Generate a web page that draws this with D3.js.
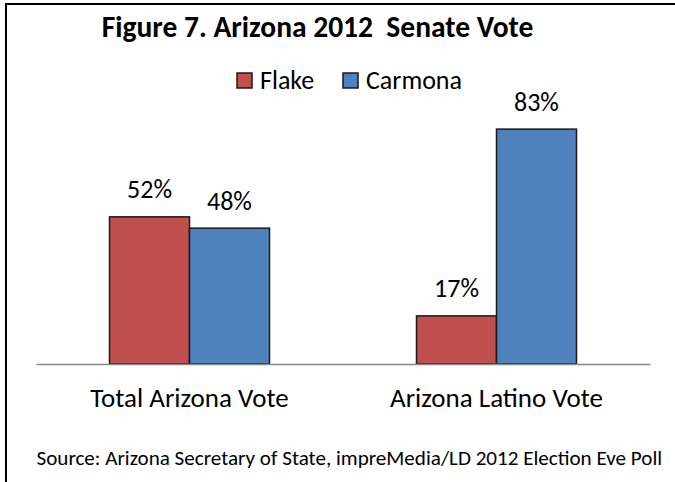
<!DOCTYPE html>
<html>
<head>
<meta charset="utf-8">
<script src="https://cdn.jsdelivr.net/npm/d3@7"></script>
<style>
  html, body { margin: 0; padding: 0; background: #fff; }
  svg { display: block; }
  text { font-family: Carlito, Lato, "Open Sans", sans-serif; fill: #000; }
</style>
</head>
<body>
<svg id="chart" width="675" height="482"></svg>
<script>
// Arizona 2012 Senate vote shares
const categories = ["Total Arizona Vote", "Arizona Latino Vote"];
const seriesNames = ["Flake", "Carmona"];
const flakeValues = [52, 17];
const carmonaValues = [48, 83];
const seriesColors = ["#C0504D", "#4F81BD"];

const titleText = "Figure 7. Arizona 2012  Senate Vote";
const sourceText = "Source: Arizona Secretary of State, impreMedia/LD 2012 Election Eve Poll";

const svg = d3.select("#chart");

// chart frame (left and top edges)
svg.append("path")
  .attr("d", "M6,482 L6,4 L675,4")
  .attr("fill", "none")
  .attr("stroke", "#000")
  .attr("stroke-width", 2);

const plot = { left: 36, right: 650, top: 81, bottom: 364 };

const x0 = d3.scaleBand()
  .domain(categories)
  .range([plot.left, plot.right])
  .padding(0);

const barWidth = 80;
const x1 = d3.scaleBand()
  .domain(seriesNames)
  .range([-barWidth, barWidth])
  .padding(0);

const y = d3.scaleLinear()
  .domain([0, 100])
  .range([plot.bottom, plot.top]);

const rows = categories.map((c, i) => ({
  category: c,
  values: [
    { series: "Flake", value: flakeValues[i], color: seriesColors[0] },
    { series: "Carmona", value: carmonaValues[i], color: seriesColors[1] }
  ]
}));

const groups = svg.append("g").selectAll("g")
  .data(rows)
  .join("g")
  .attr("transform", d => `translate(${x0(d.category) + x0.bandwidth() / 2},0)`);

groups.selectAll("rect")
  .data(d => d.values)
  .join("rect")
  .attr("x", d => x1(d.series))
  .attr("y", d => y(d.value))
  .attr("width", x1.bandwidth())
  .attr("height", d => y(0) - y(d.value))
  .attr("fill", d => d.color)
  .attr("stroke", "#1a1a1a")
  .attr("stroke-width", 1.5);

groups.selectAll("text.val")
  .data(d => d.values)
  .join("text")
  .attr("class", "val")
  .attr("x", d => x1(d.series) + x1.bandwidth() / 2)
  .attr("y", d => y(d.value) - 18.5)
  .attr("text-anchor", "middle")
  .attr("font-size", 26)
  .text(d => d.value + "%");

// category axis
const xAxis = d3.axisBottom(x0).tickSize(0).tickPadding(0);
const axisG = svg.append("g")
  .attr("transform", `translate(0,${plot.bottom})`)
  .call(xAxis);
axisG.select(".domain").attr("stroke", "#888").attr("stroke-width", 1.5);
axisG.selectAll(".tick text")
  .attr("font-size", 27)
  .attr("font-family", "Carlito, Lato, 'Open Sans', sans-serif")
  .attr("fill", "#000")
  .attr("dy", null)
  .attr("y", 43);

// title
svg.append("text")
  .attr("x", 317.5)
  .attr("y", 37)
  .attr("text-anchor", "middle")
  .attr("font-size", 29.5)
  .attr("font-weight", "bold")
  .attr("xml:space", "preserve")
  .style("white-space", "pre")
  .text(titleText);

// legend
const legend = svg.append("g").attr("transform", "translate(237,73)");
const legendX = [0, 106];
seriesNames.forEach((name, i) => {
  const g = legend.append("g").attr("transform", `translate(${legendX[i]},0)`);
  g.append("rect")
    .attr("width", 15).attr("height", 15)
    .attr("fill", seriesColors[i])
    .attr("stroke", "#1a1a1a").attr("stroke-width", 1.5);
  g.append("text")
    .attr("x", 23).attr("y", 15.5)
    .attr("font-size", 26)
    .text(name);
});

// source note
svg.append("text")
  .attr("x", 36.5)
  .attr("y", 465)
  .attr("font-size", 21.1)
  .text(sourceText);
</script>
</body>
</html>
